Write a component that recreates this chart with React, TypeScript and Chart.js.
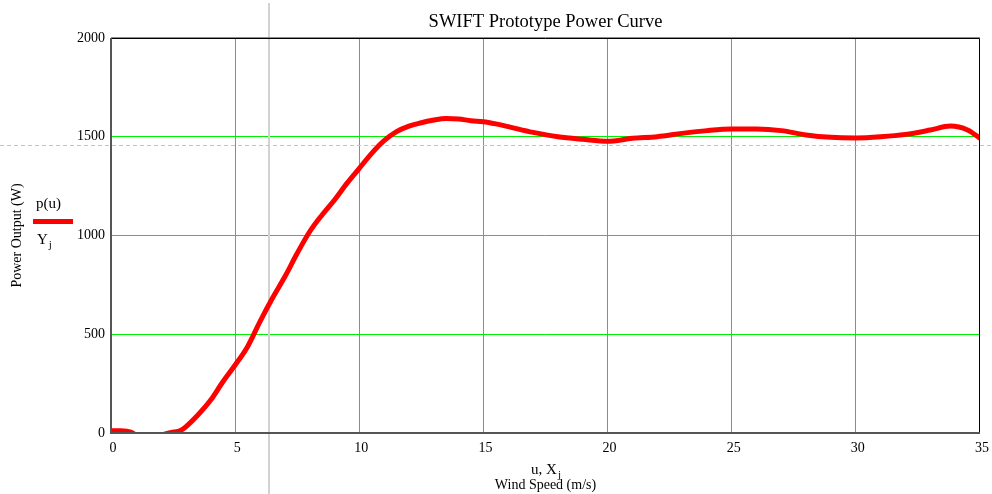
import { useEffect, useRef } from "react";
import { Chart, registerables } from "chart.js";

Chart.register(...registerables);

// ---- data ----
const windSpeed = [
  0, 0.4, 0.8, 1.2, 1.6, 2.0, 2.4, 2.8,
  3.0, 3.5, 4.0, 4.5, 5.0, 5.5, 6.0, 6.5, 7.0, 7.5, 8.0, 8.5, 9.0, 9.5, 10.0, 10.5, 11.0, 11.5, 12.0,
  12.5, 13, 13.5, 14, 14.5, 15, 15.5, 16, 17, 18, 19, 20, 21, 22, 23, 24, 25, 26, 27, 28, 29, 30, 31, 32, 33,
  33.8, 34.5, 35,
];
const powerOutput = [
  12, 12, 5, -25, -35, -12, 2, 12,
  30, 91, 164, 258, 344, 437, 564, 682, 791, 910, 1019, 1104, 1180, 1264, 1340, 1416, 1480, 1526, 1554,
  1571, 1585, 1593, 1590, 1581, 1576, 1565, 1551, 1522, 1500, 1487, 1477, 1492, 1500, 1517, 1531, 1539, 1539, 1531, 1509, 1497, 1494, 1500, 1512, 1534,
  1554, 1534, 1492,
];
const xTickValues = [0, 5, 10, 15, 20, 25, 30, 35];
const yTickValues = [0, 500, 1000, 1500, 2000];
const cursorSpeed = [6.36];
const cursorPower = [1456];

const chartTitle = "SWIFT Prototype Power Curve";
const yAxisTitle = "Power Output (W)";
const xAxisTitle = "Wind Speed (m/s)";
const xVarLabel = "u, X";
const legendTop = "p(u)";
const legendBottom = "Y";
const subscript = "j";

const SERIF = '"Liberation Serif", "Times New Roman", serif';
const GREEN = "#00ee00";

const decorations = {
  id: "decorations",
  beforeDatasetsDraw(chart: any) {
    const { ctx, scales } = chart;
    const x = scales.x;
    const y = scales.y;
    ctx.save();
    const cx = Math.round(x.getPixelForValue(cursorSpeed[0]));
    ctx.strokeStyle = "#d2d2d2";
    ctx.lineWidth = 2;
    ctx.beginPath();
    ctx.moveTo(cx, 3);
    ctx.lineTo(cx, chart.height);
    ctx.stroke();
    const cy = Math.round(y.getPixelForValue(cursorPower[0])) + 0.5;
    ctx.setLineDash([4, 3]);
    ctx.lineWidth = 1;
    ctx.strokeStyle = "#c4c4c4";
    ctx.beginPath();
    ctx.moveTo(0, cy);
    ctx.lineTo(chart.width, cy);
    ctx.stroke();
    ctx.restore();
  },
  afterDatasetsDraw(chart: any) {
    const { ctx, chartArea } = chart;
    const { left, right, top, bottom } = chartArea;
    ctx.save();
    ctx.strokeStyle = GREEN;
    ctx.lineWidth = 1;
    ctx.beginPath();
    ctx.moveTo(left, top - 0.5);
    ctx.lineTo(right, top - 0.5);
    ctx.stroke();
    ctx.strokeStyle = "#000";
    ctx.beginPath();
    ctx.moveTo(left, top + 0.5);
    ctx.lineTo(right - 0.5, top + 0.5);
    ctx.lineTo(right - 0.5, bottom);
    ctx.stroke();
    ctx.strokeStyle = "#555";
    ctx.lineWidth = 2;
    ctx.beginPath();
    ctx.moveTo(left, top);
    ctx.lineTo(left, bottom);
    ctx.lineTo(right, bottom);
    ctx.stroke();
    ctx.restore();
  },
  afterDraw(chart: any) {
    const { ctx, chartArea } = chart;
    const mid = (chartArea.left + chartArea.right) / 2;
    ctx.save();
    ctx.fillStyle = "#000";
    ctx.textBaseline = "middle";
    ctx.font = `18.5px ${SERIF}`;
    ctx.textAlign = "center";
    ctx.fillText(chartTitle, mid, 22);
    ctx.font = `15px ${SERIF}`;
    const w1 = ctx.measureText(xVarLabel).width;
    ctx.font = `11px ${SERIF}`;
    const w2 = ctx.measureText(subscript).width;
    const sx = mid - (w1 + w2) / 2;
    ctx.textAlign = "left";
    ctx.font = `15px ${SERIF}`;
    ctx.fillText(xVarLabel, sx, 470);
    ctx.font = `11px ${SERIF}`;
    ctx.fillText(subscript, sx + w1 + 1, 475);
    ctx.font = `15px ${SERIF}`;
    ctx.fillText(legendTop, 36, 204);
    const wy = ctx.measureText(legendBottom).width;
    ctx.fillText(legendBottom, 37, 240);
    ctx.font = `11px ${SERIF}`;
    ctx.fillText(subscript, 37 + wy + 1, 245);
    ctx.strokeStyle = "#ff0000";
    ctx.lineWidth = 5;
    ctx.beginPath();
    ctx.moveTo(33, 221.5);
    ctx.lineTo(73, 221.5);
    ctx.stroke();
    ctx.restore();
  },
};

export default function App() {
  const ref = useRef<HTMLCanvasElement | null>(null);
  useEffect(() => {
    if (!ref.current) return;
    const chart = new Chart(ref.current, {
      type: "line",
      data: {
        datasets: [
          {
            label: "p(u)",
            data: windSpeed.map((u, i) => ({ x: u, y: powerOutput[i] })),
            borderColor: "#ff0000",
            borderWidth: 5,
            pointRadius: 0,
            cubicInterpolationMode: "monotone",
            fill: false,
            clip: 0,
          } as any,
        ],
      },
      options: {
        animation: false,
        responsive: true,
        maintainAspectRatio: false,
        layout: { padding: { top: 38, right: 12, left: 0, bottom: 0 } },
        plugins: { legend: { display: false }, title: { display: false }, tooltip: { enabled: false } },
        scales: {
          x: {
            type: "linear",
            min: 0,
            max: 35,
            afterBuildTicks: (s: any) => {
              s.ticks = xTickValues.map((v) => ({ value: v }));
            },
            afterFit: (s: any) => {
              s.height = 61;
              s.paddingLeft = 0;
              s.paddingRight = 0;
            },
            ticks: {
              color: "#000",
              font: { family: SERIF, size: 14 },
              padding: 7,
              labelOffset: 2,
              maxRotation: 0,
              callback: (v: any) => String(v),
            },
            grid: {
              color: (c: any) => (c.tick && (c.tick.value === 0 || c.tick.value === 35) ? "rgba(0,0,0,0)" : GREEN),
              lineWidth: 1,
              drawTicks: false,
            },
            border: { display: false },
            title: {
              display: true,
              text: xAxisTitle,
              color: "#000",
              font: { family: SERIF, size: 14 },
              padding: { top: 0, bottom: 0 },
            },
          },
          y: {
            type: "linear",
            min: 0,
            max: 2000,
            afterBuildTicks: (s: any) => {
              s.ticks = yTickValues.map((v) => ({ value: v }));
            },
            afterFit: (s: any) => {
              s.width = 111;
            },
            ticks: {
              color: "#000",
              font: { family: SERIF, size: 14 },
              padding: 6,
              callback: (v: any) => String(v),
            },
            grid: {
              color: (c: any) => (c.tick && (c.tick.value === 0 || c.tick.value === 2000) ? "rgba(0,0,0,0)" : GREEN),
              lineWidth: 1,
              drawTicks: false,
            },
            border: { display: false },
            title: {
              display: true,
              text: yAxisTitle,
              color: "#000",
              font: { family: SERIF, size: 14 },
              padding: { top: 9, bottom: 0 },
            },
          },
        },
      },
      plugins: [decorations],
    });
    return () => chart.destroy();
  }, []);
  return (
    <div style={{ position: "absolute", left: 0, top: 0, width: 992, height: 494, background: "#fff" }}>
      <canvas ref={ref} />
    </div>
  );
}
